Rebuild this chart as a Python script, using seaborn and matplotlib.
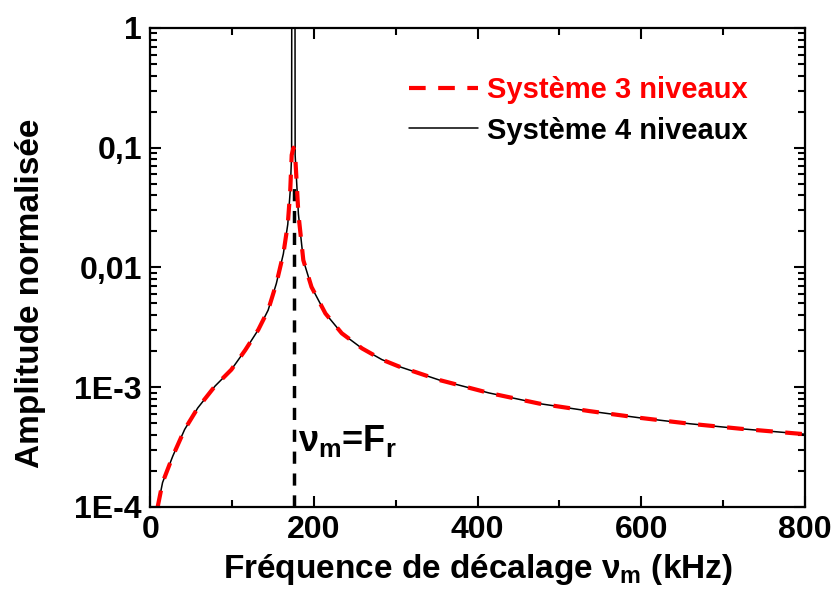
import matplotlib
matplotlib.use("Agg")
import matplotlib.pyplot as plt
import seaborn as sns

# Données (fréquence en kHz, amplitude normalisée)
freq_3niv = [9, 15, 27.6, 42, 58, 79, 99, 116, 132, 144, 154, 162.6, 168, 171, 172.8,
             175, 177, 181, 187, 197, 214, 234, 258.7, 283, 303.7, 352.8, 414, 475.5,
             537, 598, 659.5, 721, 792.6, 800]
amp_3niv = [1.0e-4, 1.60e-4, 2.67e-4, 4.44e-4, 6.71e-4, 1.02e-3, 1.40e-3, 2.04e-3, 3.02e-3,
            4.40e-3, 7.33e-3, 0.0130, 0.0229, 0.0437, 0.087,
            0.10, 0.087, 0.0279, 0.0115, 6.87e-3, 4.13e-3, 2.82e-3, 2.11e-3, 1.70e-3, 1.49e-3,
            1.15e-3, 8.95e-4, 7.29e-4, 6.31e-4, 5.55e-4, 4.95e-4, 4.50e-4, 4.09e-4, 4.05e-4]

freq_4niv = [9, 15, 27.6, 42, 58, 79, 99, 116, 132, 144, 154, 162.6, 168, 171, 172.7,
             172.9, 176.8, 177, 181, 187, 197, 214, 234, 258.7, 283, 303.7, 352.8, 414, 475.5,
             537, 598, 659.5, 721, 792.6, 800]
amp_4niv = [1.0e-4, 1.60e-4, 2.67e-4, 4.44e-4, 6.71e-4, 1.02e-3, 1.40e-3, 2.04e-3, 3.02e-3,
            4.40e-3, 7.33e-3, 0.0130, 0.0229, 0.0437, 0.087,
            3.0, 3.0, 0.087, 0.0279, 0.0115, 6.87e-3, 4.13e-3, 2.82e-3, 2.11e-3, 1.70e-3, 1.49e-3,
            1.15e-3, 8.95e-4, 7.29e-4, 6.31e-4, 5.55e-4, 4.95e-4, 4.50e-4, 4.09e-4, 4.05e-4]

f_resonance = 175
resonance_haut = 0.05

yticks = [1e-4, 1e-3, 1e-2, 1e-1, 1]
ytick_labels = ["1E-4", "1E-3", "0,01", "0,1", "1"]
xticks = [0, 200, 400, 600, 800]

sns.set_theme(style="ticks")
plt.rcParams['font.family'] = ['Liberation Sans', 'DejaVu Sans']
plt.rcParams['font.weight'] = 'bold'
plt.rcParams['text.color'] = 'black'
plt.rcParams['axes.labelcolor'] = 'black'
plt.rcParams['xtick.color'] = 'black'
plt.rcParams['ytick.color'] = 'black'
plt.rcParams['mathtext.fontset'] = 'custom'
plt.rcParams['mathtext.rm'] = 'Liberation Sans:bold'
plt.rcParams['mathtext.bf'] = 'Liberation Sans:bold'
plt.rcParams['mathtext.it'] = 'Liberation Sans:bold'

fig = plt.figure(figsize=(8.35, 5.95), dpi=100)
ax = fig.add_axes([0.180, 0.148, 0.784, 0.805])

# Trait vertical nu_m = F_r
ax.vlines(f_resonance, 1e-4, resonance_haut, colors='black', linestyles=(0, (3.5, 2.8)), linewidth=2.5)

sns.lineplot(x=freq_4niv, y=amp_4niv, ax=ax, color='black', linewidth=1.1,
             label='Système 4 niveaux', sort=False)
sns.lineplot(x=freq_3niv, y=amp_3niv, ax=ax, color='red', linewidth=3,
             label='Système 3 niveaux', sort=False)
ax.lines[-1].set_dashes((4, 3))

ax.set_yscale('log')
ax.set_xlim(0, 800)
ax.set_ylim(1e-4, 1)
ax.set_xticks(xticks)
ax.set_xticklabels([str(v) for v in xticks])
ax.set_xticks([100, 300, 500, 700], minor=True)
ax.set_yticks(yticks)
ax.set_yticklabels(ytick_labels)

ax.tick_params(which='both', direction='in', top=True, right=True, width=1.5,
               labelsize=23, pad=6)
ax.tick_params(which='major', length=8)
ax.tick_params(which='minor', length=5)
for s in ax.spines.values():
    s.set_linewidth(1.6)
    s.set_color('black')

ax.set_xlabel(r"Fréquence de décalage $\nu_\mathregular{m}$ (kHz)", fontsize=24,
              fontweight='bold', labelpad=5)
ax.set_ylabel("Amplitude normalisée", fontsize=24, fontweight='bold')
ax.yaxis.set_label_coords(-0.16, 0.445)

ax.text(181, 10 ** -3.45, r"$\nu_\mathregular{m}$=F$_\mathregular{r}$", fontsize=26,
        fontweight='bold', ha='left', va='center')

handles, labels = ax.get_legend_handles_labels()
leg = ax.legend(handles[::-1], labels[::-1], loc='upper right', bbox_to_anchor=(0.912, 0.899),
                frameon=False, fontsize=21, handlelength=2.35, borderaxespad=0, borderpad=0,
                labelspacing=0.42, handletextpad=0.3)
leg.get_texts()[0].set_color('red')

fig.savefig('out.png', dpi=100)
